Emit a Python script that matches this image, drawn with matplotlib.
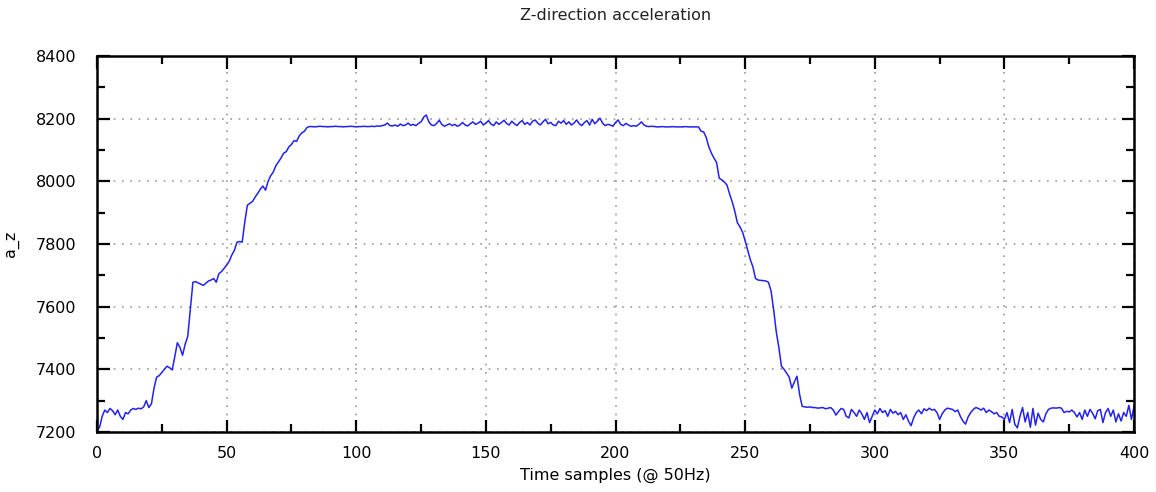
import numpy as np
import matplotlib
matplotlib.use("Agg")
import matplotlib.pyplot as plt
from matplotlib.ticker import MultipleLocator

# a_z readings, one per sample
rise = [7205, 7215, 7250, 7270, 7262, 7275, 7268, 7255, 7270, 7250,
        7240, 7262, 7258, 7270, 7275, 7272, 7276, 7274, 7280, 7300,
        7278, 7290, 7340, 7375, 7380, 7390, 7400, 7410, 7405, 7398,
        7440, 7485, 7470, 7445, 7480, 7505, 7590, 7678, 7680, 7676,
        7672, 7668, 7675, 7682, 7685, 7690, 7678, 7705, 7712, 7722,
        7733, 7745, 7765, 7780, 7806, 7808, 7806, 7870, 7924, 7930,
        7936, 7950, 7962, 7975, 7985, 7972, 8000, 8018, 8030, 8050,
        8062, 8075, 8090, 8095, 8110, 8118, 8130, 8128, 8145, 8155,
        8160, 8172]
top = [8175, 8175, 8174, 8175, 8176, 8175, 8175, 8174, 8175, 8175,
       8176, 8175, 8175, 8174, 8175, 8175, 8176, 8175, 8174, 8175,
       8175, 8176, 8175,
       8175, 8176, 8175, 8177, 8176, 8178, 8180, 8186, 8178, 8177,
       8180, 8176, 8183, 8178, 8180, 8186, 8179, 8182, 8178, 8185,
       8190, 8205, 8212, 8190, 8180, 8178, 8185, 8195, 8182, 8176,
       8180, 8184, 8178, 8182, 8176, 8180, 8188, 8180, 8177, 8184,
       8190, 8182, 8186, 8192, 8180, 8186, 8194, 8183, 8178, 8190,
       8182, 8188, 8195, 8185, 8180, 8192, 8184, 8178, 8188, 8194,
       8182, 8188, 8180, 8192, 8196, 8186, 8180, 8190, 8198, 8184,
       8188, 8180, 8178, 8192, 8186, 8194, 8182, 8190, 8180, 8186,
       8196, 8184, 8178, 8188, 8194, 8180, 8198, 8184, 8192, 8202,
       8186, 8178, 8182, 8180, 8176, 8188, 8196, 8182, 8178, 8185,
       8180, 8176, 8178, 8176, 8182, 8190, 8180, 8176, 8175, 8176,
       8175,
       8174, 8174, 8175, 8174, 8174, 8174, 8175, 8174, 8174, 8174,
       8174, 8175, 8174, 8174, 8174, 8174, 8174]
fall = [8160, 8158, 8140, 8110, 8090, 8074, 8060, 8010, 8005, 7998,
        7988, 7960, 7935, 7905, 7868, 7855, 7838, 7810, 7780, 7750,
        7727, 7690, 7685, 7684, 7683, 7682, 7678, 7650, 7590, 7520,
        7470, 7410, 7400, 7388, 7375, 7340, 7360, 7378, 7320, 7282]
rest = [7280, 7279, 7280, 7278, 7278, 7276, 7277, 7278, 7274, 7276,
        7278, 7270, 7254, 7265, 7275, 7272, 7250, 7245, 7272,
        7262, 7250, 7270, 7258, 7240, 7262, 7230, 7250, 7270, 7258,
        7275, 7262, 7268, 7250, 7272, 7260, 7266, 7255, 7262, 7240,
        7255, 7235, 7220, 7245, 7262, 7270, 7258, 7274, 7268, 7276,
        7270, 7272, 7262, 7240, 7258, 7270, 7276, 7274, 7272, 7265,
        7270, 7250, 7235, 7225, 7248, 7262, 7272, 7278, 7275, 7270,
        7276, 7262, 7270, 7265, 7258, 7262, 7250, 7248, 7240, 7262,
        7230, 7272, 7225, 7213, 7250, 7278, 7232, 7262, 7215, 7275,
        7222, 7260, 7240, 7232, 7258, 7272, 7276, 7277, 7276, 7278,
        7276, 7262, 7266, 7264, 7270, 7262, 7248, 7262, 7240, 7270,
        7250, 7272, 7260, 7242, 7268, 7272, 7230, 7262, 7275, 7250,
        7270, 7232, 7258, 7235, 7262, 7250, 7285, 7240, 7282]

a_z = np.array(rise + top + fall + rest)
samples = np.arange(len(a_z))

fig = plt.figure(figsize=(11.56, 4.92), dpi=100)
ax = fig.add_axes([0.0839, 0.122, 0.8971, 0.764])

ax.plot(samples, a_z, color='#2222ee', linewidth=1.1)

ax.set_xlim(0, 400)
ax.set_ylim(7200, 8400)
ax.xaxis.set_major_locator(MultipleLocator(50))
ax.xaxis.set_minor_locator(MultipleLocator(25))
ax.yaxis.set_major_locator(MultipleLocator(200))
ax.yaxis.set_minor_locator(MultipleLocator(100))
ax.tick_params(which='both', direction='in', top=True, right=True,
               width=1.6, labelsize=11.5, colors='black')
ax.tick_params(which='major', length=9)
ax.tick_params(which='minor', length=6)
ax.tick_params(axis='x', pad=10)
ax.tick_params(axis='y', pad=15)
for s in ax.spines.values():
    s.set_linewidth(1.8)

ax.grid(which='major', color='#999999', linestyle=(0, (1, 4)), linewidth=1.2)

ax.set_title("Z-direction acceleration", fontsize=11.5, pad=26, color='#222222')
ax.set_xlabel("Time samples (@ 50Hz)", fontsize=11.5, labelpad=5)
ax.set_ylabel("a_z", fontsize=11.5, labelpad=12)

fig.savefig("out.png", dpi=100)
